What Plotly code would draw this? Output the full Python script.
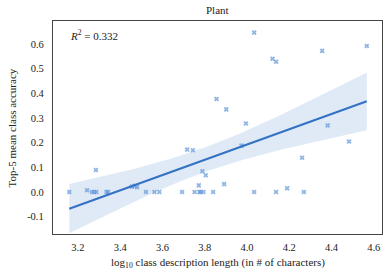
import numpy as np
import plotly.graph_objects as go

# log10 description length
x_vals = [3.159, 3.243, 3.266, 3.277, 3.287, 3.285, 3.335, 3.343,
          3.455, 3.468, 3.480, 3.522, 3.562, 3.585, 3.693, 3.717, 3.744,
          3.752, 3.775, 3.780, 3.794, 3.772, 3.789, 3.805, 3.840, 3.856,
          3.892, 3.902, 3.974, 3.995, 4.034, 4.034, 4.121, 4.138, 4.138,
          4.190, 4.261, 4.269, 4.356, 4.382, 4.483, 4.567]
# top-5 mean class accuracy
y_vals = [0.000, 0.007, 0.000, 0.000, 0.000, 0.089, 0.000, 0.000,
          0.022, 0.025, 0.020, 0.000, 0.000, 0.000, 0.000, 0.172, 0.169,
          0.000, 0.000, 0.000, 0.000, 0.027, 0.084, 0.068, 0.000, 0.377,
          0.032, 0.335, 0.188, 0.278, 0.646, 0.000, 0.540, 0.528, 0.000,
          0.015, 0.139, 0.000, 0.572, 0.270, 0.205, 0.592]
r2_text = "0.332"
title = "Plant"
x_ticks = [3.2, 3.4, 3.6, 3.8, 4.0, 4.2, 4.4, 4.6]
y_ticks = [-0.1, 0.0, 0.1, 0.2, 0.3, 0.4, 0.5, 0.6]

x = np.array(x_vals)
y = np.array(y_vals)
n = len(x)
b1, b0 = np.polyfit(x, y, 1)
grid = np.linspace(x.min(), x.max(), 100)
pred = b0 + b1 * grid
resid = y - (b0 + b1 * x)
s = np.sqrt(np.sum(resid ** 2) / (n - 2))
sxx = np.sum((x - x.mean()) ** 2)
se = s * np.sqrt(1 / n + (grid - x.mean()) ** 2 / sxx)
t = 2.02
upper = pred + t * se
lower = pred - t * se

FONT = "Liberation Serif"
fig = go.Figure()
fig.add_trace(go.Scatter(x=np.concatenate([grid, grid[::-1]]),
                         y=np.concatenate([upper, lower[::-1]]),
                         fill="toself", fillcolor="rgba(49,115,200,0.15)",
                         line=dict(width=0), hoverinfo="skip", showlegend=False))
fig.add_trace(go.Scatter(x=x, y=y, mode="markers",
                         marker=dict(symbol="x", size=4.5, color="rgba(95,150,218,0.7)",
                                     line=dict(width=0)),
                         showlegend=False))
fig.add_trace(go.Scatter(x=grid, y=pred, mode="lines",
                         line=dict(color="#3473c4", width=2.2), showlegend=False))

fig.add_annotation(x=0.045, y=0.935, xref="paper", yref="paper",
                   text="<i>R</i><sup>2</sup> = " + r2_text, showarrow=False,
                   xanchor="left", yanchor="middle",
                   font=dict(family=FONT, size=11, color="#222"))
fig.add_annotation(x=0.5, y=-0.135, xref="paper", yref="paper",
                   text="log<sub>10</sub> class description length (in # of characters)",
                   showarrow=False, xanchor="center", yanchor="middle",
                   font=dict(family=FONT, size=11, color="#222"))
fig.add_annotation(x=-0.125, y=0.5, xref="paper", yref="paper",
                   text="Top-5 mean class accuracy", textangle=-90,
                   showarrow=False, xanchor="center", yanchor="middle",
                   font=dict(family=FONT, size=11, color="#222"))
fig.add_annotation(x=0.5, y=1.05, xref="paper", yref="paper",
                   text=title, showarrow=False, xanchor="center", yanchor="middle",
                   font=dict(family=FONT, size=11, color="#222"))

fig.update_layout(
    width=390, height=277,
    margin=dict(l=53, r=8, t=21, b=43),
    paper_bgcolor="white", plot_bgcolor="white",
    font=dict(family=FONT, size=10, color="#222"),
    xaxis=dict(range=[3.082, 4.639], tickvals=x_ticks,
               ticktext=[f"{v:.1f}" for v in x_ticks], automargin=False,
               showgrid=False, zeroline=False, showline=True, mirror=True,
               linecolor="#444", linewidth=1.3, ticks="", ticklabelstandoff=3,
               tickfont=dict(size=10.5)),
    yaxis=dict(range=[-0.170, 0.693], tickvals=y_ticks,
               ticktext=[f"{v:.1f}" for v in y_ticks], automargin=False,
               showgrid=False, zeroline=False, showline=True, mirror=True,
               linecolor="#444", linewidth=1.3, ticks="", ticklabelstandoff=6,
               tickfont=dict(size=10.5)),
)
fig.write_html("out.html", config={"displayModeBar": False},
               post_script="document.body.style.margin='0';")
